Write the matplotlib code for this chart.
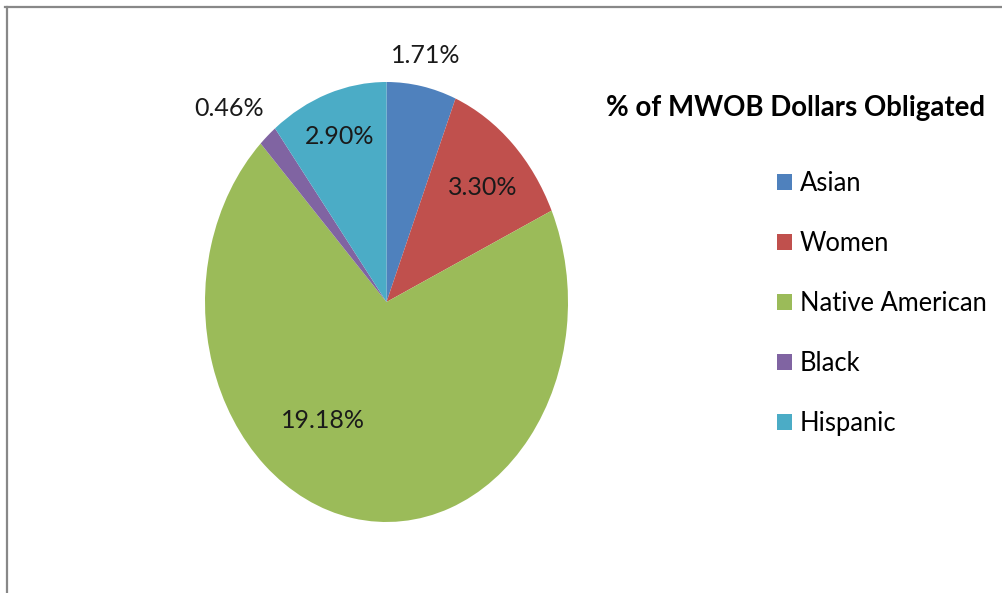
import matplotlib
matplotlib.use("Agg")
import matplotlib.pyplot as plt
from matplotlib.lines import Line2D
from matplotlib.patches import Patch

plt.rcParams['font.family'] = ['Lato', 'DejaVu Sans']

# data
categories = ["Asian", "Women", "Native American", "Black", "Hispanic"]
values = [1.71, 3.30, 19.18, 0.46, 2.90]
labels = ["1.71%", "3.30%", "19.18%", "0.46%", "2.90%"]
colors = ["#4F81BD", "#C0504D", "#9BBB59", "#8064A2", "#4BACC6"]
title = "% of MWOB Dollars Obligated"

# label spots (data coords, pie radius 1)
label_pos = [(0.215, 1.12), (0.53, 0.52), (-0.35, -0.54), (-0.87, 0.88), (-0.26, 0.75)]

W, H = 1003, 593
fig = plt.figure(figsize=(W / 100, H / 100), dpi=100)

# pie is stretched vertically -> use non-equal axes
x0, x1, y0, y1 = 205, 568, 82, 522
ax = fig.add_axes([x0 / W, 1 - y1 / H, (x1 - x0) / W, (y1 - y0) / H])
wedges, _ = ax.pie(values, colors=colors, startangle=90, counterclock=False,
                   radius=1, wedgeprops=dict(linewidth=0))
ax.set_aspect('auto')
ax.set_xlim(-1, 1)
ax.set_ylim(-1, 1)
ax.axis('off')

for (lx, ly), txt in zip(label_pos, labels):
    ax.text(lx, ly, txt, ha='center', va='center', fontsize=18, color='#1a1a1a')

fig.text(606 / W, 1 - 108 / H, title, ha='left', va='center',
         fontsize=19.9, fontweight='bold', color='black')

handles = [Patch(facecolor=c, edgecolor='none') for c in colors]
fig.legend(handles, categories, loc='upper left',
           bbox_to_anchor=(777 / W, 1 - 171 / H), frameon=False,
           fontsize=18.4, handlelength=0.6, handleheight=0.6,
           handletextpad=0.3, labelspacing=1.37, borderpad=0, borderaxespad=0)

# partial frame (top + left)
fig.add_artist(Line2D([5 / W, 1], [1 - 7 / H, 1 - 7 / H], color='#888888', lw=1.6,
                      transform=fig.transFigure))
fig.add_artist(Line2D([7 / W, 7 / W], [0, 1 - 7 / H], color='#888888', lw=1.6,
                      transform=fig.transFigure))

fig.savefig("out.png", dpi=100)
